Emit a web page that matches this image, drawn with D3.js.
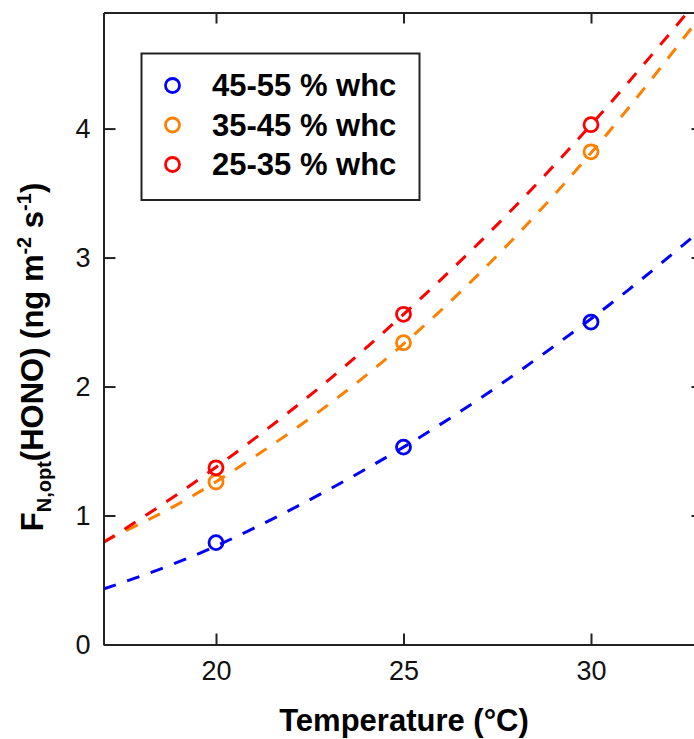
<!DOCTYPE html>
<html>
<head>
<meta charset="utf-8">
<script src="https://cdn.jsdelivr.net/npm/d3@7.9.0/dist/d3.min.js"></script>
<style>
  html, body { margin: 0; padding: 0; background: #fff; }
  svg { display: block; font-family: "Liberation Sans", Arial, sans-serif; }
</style>
</head>
<body>
<svg id="chart" width="694" height="739"></svg>
<script>
// measured points (degC -> ng m-2 s-1)
const temps = [20, 25, 30];
const wet = [0.79, 1.53, 2.50];      // 45-55 % whc
const mid = [1.26, 2.34, 3.82];      // 35-45 % whc
const dry = [1.37, 2.56, 4.03];      // 25-35 % whc

// fitted curves
const fitTemps = [17, 19, 21, 23, 25, 27, 29, 31, 33];
const wetFit = [0.43, 0.64, 0.90, 1.20, 1.53, 1.90, 2.31, 2.75, 3.23];
const midFit = [0.80, 1.09, 1.45, 1.86, 2.33, 2.87, 3.48, 4.16, 4.90];
const dryFit = [0.79, 1.17, 1.59, 2.05, 2.56, 3.11, 3.71, 4.36, 5.05];

const labels = ['45-55 % whc', '35-45 % whc', '25-35 % whc'];
const colors = ['#0000ff', '#ff8000', '#ff0000'];
const xTicks = [20, 25, 30];
const yTicks = [0, 1, 2, 3, 4];

const series = [
    { name: labels[0], color: colors[0], pts: wet, fit: wetFit },
    { name: labels[1], color: colors[1], pts: mid, fit: midFit },
    { name: labels[2], color: colors[2], pts: dry, fit: dryFit },
];

const svg = d3.select('#chart');
const plotL = 103.5, plotR = 703.5, plotT = 12.5, plotB = 644.5;

const x = d3.scaleLinear().domain([17, 33]).range([plotL, plotR]);
const y = d3.scaleLinear().domain([0, 4.9]).range([plotB, plotT]);

svg.append('defs').append('clipPath').attr('id', 'plot')
    .append('rect')
    .attr('x', plotL).attr('y', plotT)
    .attr('width', plotR - plotL).attr('height', plotB - plotT);

// fitted dashed curves
const line = d3.line()
    .x(d => x(d[0]))
    .y(d => y(d[1]))
    .curve(d3.curveNatural);

svg.append('g').attr('clip-path', 'url(#plot)')
    .selectAll('path')
    .data(series)
    .join('path')
    .attr('d', s => line(fitTemps.map((t, i) => [t, s.fit[i]])))
    .attr('fill', 'none')
    .attr('stroke', s => s.color)
    .attr('stroke-width', 3)
    .attr('stroke-dasharray', '13,12');

// markers
series.forEach(s => {
    svg.append('g')
        .selectAll('circle')
        .data(temps.map((t, i) => [t, s.pts[i]]))
        .join('circle')
        .attr('cx', d => x(d[0]))
        .attr('cy', d => y(d[1]))
        .attr('r', 7)
        .attr('fill', 'none')
        .attr('stroke', s.color)
        .attr('stroke-width', 2.8);
});

// axes
function styleAxis(g) {
    g.selectAll('path, line').attr('stroke', '#222').attr('stroke-width', 2);
    g.selectAll('text').attr('fill', '#111').attr('font-size', 27)
        .attr('font-family', '"Liberation Sans", Arial, sans-serif');
}

svg.append('g')
    .attr('transform', `translate(0,${plotB})`)
    .call(d3.axisBottom(x).tickValues(xTicks).tickFormat(d3.format('d'))
        .tickSize(-11).tickSizeOuter(0).tickPadding(16))
    .call(styleAxis);

svg.append('g')
    .attr('transform', `translate(${plotL},0)`)
    .call(d3.axisLeft(y).tickValues(yTicks).tickFormat(d3.format('d'))
        .tickSize(-12).tickSizeOuter(0).tickPadding(13))
    .call(styleAxis);

svg.append('g')
    .attr('transform', `translate(0,${plotT})`)
    .call(d3.axisTop(x).tickValues(xTicks).tickSize(-11).tickSizeOuter(0).tickFormat(''))
    .call(styleAxis);

svg.append('g')
    .attr('transform', `translate(${plotR},0)`)
    .call(d3.axisRight(y).tickValues(yTicks.slice(1)).tickSize(-12).tickSizeOuter(0).tickFormat(''))
    .call(styleAxis);

// axis titles
svg.append('text')
    .attr('x', 404)
    .attr('y', 731)
    .attr('text-anchor', 'middle')
    .attr('font-size', 31)
    .attr('font-weight', 'bold')
    .text('Temperature (°C)');

const yl = svg.append('text')
    .attr('transform', 'translate(43,357) rotate(-90)')
    .attr('text-anchor', 'middle')
    .attr('font-size', 31)
    .attr('font-weight', 'bold');
yl.append('tspan').text('F');
yl.append('tspan').attr('font-size', 20).attr('dy', 8).text('N,opt');
yl.append('tspan').attr('dy', -8).text('(HONO) (ng m');
yl.append('tspan').attr('font-size', 20).attr('dy', -12).text('-2');
yl.append('tspan').attr('dy', 12).text(' s');
yl.append('tspan').attr('font-size', 20).attr('dy', -12).text('-1');
yl.append('tspan').attr('dy', 12).text(')');

// legend
const legend = svg.append('g');
legend.append('rect')
    .attr('x', 141.5).attr('y', 53.5)
    .attr('width', 278).attr('height', 146.5)
    .attr('fill', '#fff')
    .attr('stroke', '#222')
    .attr('stroke-width', 2);

const rowY = d3.scalePoint().domain(labels).range([85.5, 164.5]);

legend.selectAll('circle')
    .data(series)
    .join('circle')
    .attr('cx', 172.5)
    .attr('cy', s => rowY(s.name))
    .attr('r', 7)
    .attr('fill', 'none')
    .attr('stroke', s => s.color)
    .attr('stroke-width', 2.8);

legend.selectAll('text')
    .data(series)
    .join('text')
    .attr('x', 212)
    .attr('y', s => rowY(s.name) + 10.5)
    .attr('font-size', 31)
    .attr('font-weight', 'bold')
    .text(s => s.name);
</script>
</body>
</html>
